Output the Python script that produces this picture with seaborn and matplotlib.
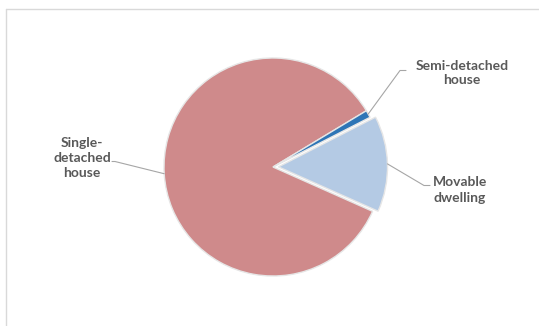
import numpy as np
import matplotlib.pyplot as plt
import seaborn as sns

# dwelling types, share of dwellings (%)
labels = ["Single-\ndetached\nhouse", "Semi-detached\nhouse", "Movable\ndwelling"]
shares = [84.7, 1.1, 14.2]
colors = ["#CF8A8B", "#2E75B6", "#B4CAE4"]

sns.set_theme(style="white")
plt.rcParams["font.family"] = ["Lato", "DejaVu Sans"]

fig = plt.figure(figsize=(5.39, 3.26), dpi=100)
ax = fig.add_axes([0, 0, 1, 1])
ax.set_xlim(0, 539)
ax.set_ylim(0, 326)
ax.axis("off")

# frame lines of the chart area (top and left only visible)
fig.add_artist(plt.Line2D([6 / 539, 1], [317 / 326, 317 / 326], color="#D9D9D9", lw=1))
fig.add_artist(plt.Line2D([6 / 539, 6 / 539], [0, 317 / 326], color="#D9D9D9", lw=1))

center = (273, 159)
radius = 109
wedges, _ = ax.pie(shares, colors=colors, center=center, radius=radius,
                   startangle=-24, counterclock=False, explode=[0, 0, 5.5],
                   wedgeprops=dict(edgecolor="#E6E6E6", linewidth=1.0),
                   frame=True)
ax.set_xlim(0, 539)
ax.set_ylim(0, 326)
ax.set_aspect("equal")
ax.axis("off")

# label placement: text centre, elbow point, line end
text_pos = [(82, 168), (462, 253), (460, 136)]
elbows = [((115, 164.5), (112, 164.5)),
          ((400, 255.5), (406, 255.5)),
          ((424, 140.5), (430, 140.5))]

for w, lab, tp, (e1, e2) in zip(wedges, labels, text_pos, elbows):
    ang = np.deg2rad((w.theta1 + w.theta2) / 2)
    cx, cy = w.center
    sx = cx + w.r * np.cos(ang)
    sy = cy + w.r * np.sin(ang)
    ax.plot([sx, e1[0], e2[0]], [sy, e1[1], e2[1]], color="#A6A6A6", lw=0.8)
    ax.text(tp[0], tp[1], lab, ha="center", va="center", fontsize=10,
            fontweight="bold", color="#595959", linespacing=1.3)

fig.savefig("out.png", dpi=100)
